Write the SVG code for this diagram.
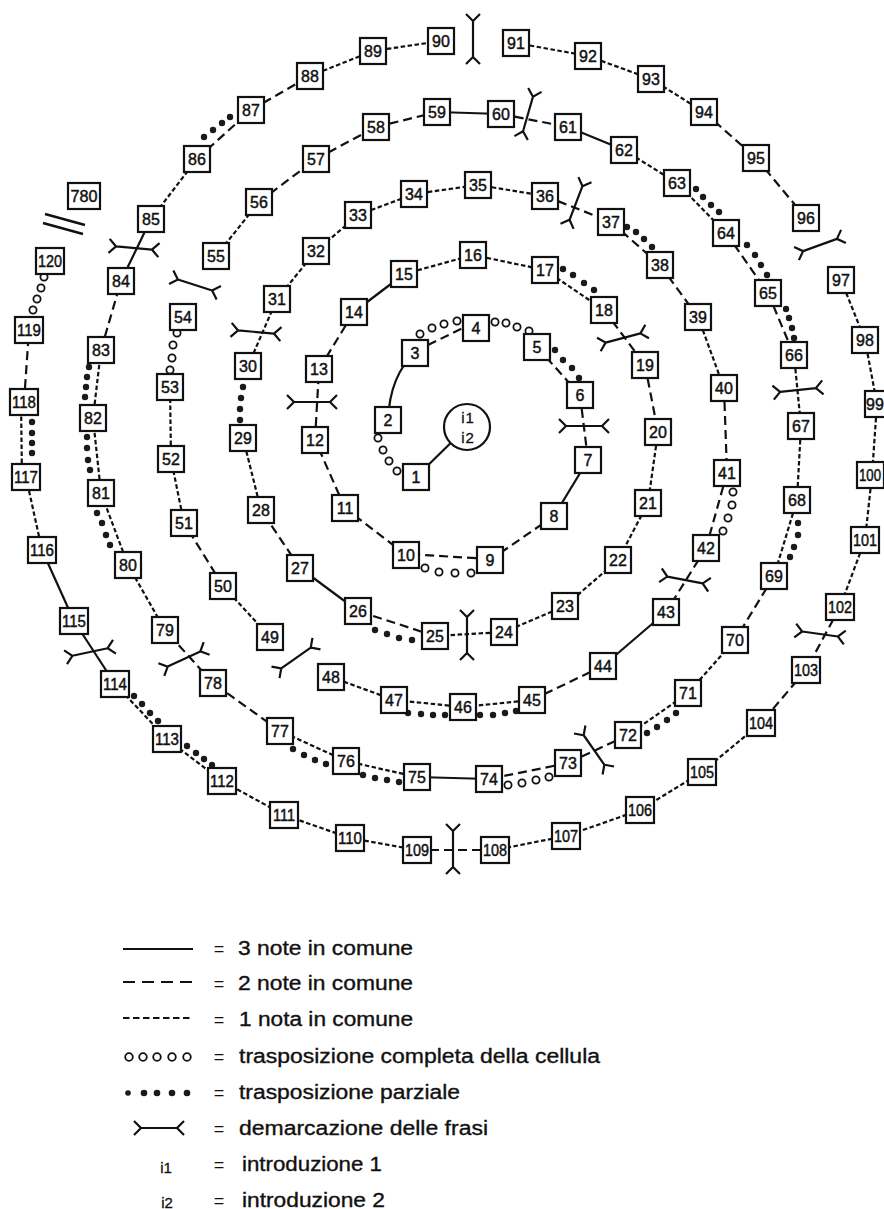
<svg xmlns="http://www.w3.org/2000/svg" width="884" height="1209" viewBox="0 0 884 1209">
<defs>
<style>
.c{fill:none;stroke:#111;stroke-width:2.2}
.d1{stroke-dasharray:4.5 2.5}
.d2{stroke-dasharray:9 5}
.oc{fill:#fff;stroke:#111;stroke-width:1.8}
.fd{fill:#1a1a1a}
.b rect{fill:#fff;stroke:#111;stroke-width:2.2}
.b text{font-family:"Liberation Sans",Arial,sans-serif;font-size:16px;text-anchor:middle;fill:#111;stroke:#111;stroke-width:0.45}
.lg{font-family:"Liberation Sans",Arial,sans-serif;font-size:20px;fill:#111;stroke:#111;stroke-width:0.35}
.eq{font-family:"Liberation Sans",Arial,sans-serif;font-size:18px;fill:#111;text-anchor:middle}
.sm{font-family:"Liberation Sans",Arial,sans-serif;font-size:15px;fill:#111;text-anchor:middle;stroke:#111;stroke-width:0.3}
</style>
<path id="dm" d="M0,-18V18M-7,-25L0,-18L7,-25M-7,25L0,18L7,25" fill="none" stroke="#111" stroke-width="2.2"/>
</defs>
<rect width="884" height="1209" fill="#fff"/>

<g id="connectors">
<line class="c" x1="467" y1="427" x2="416" y2="477"/>
<path class="c" d="M388,420 Q390,375 415,353"/>
<line class="c d2" x1="428" y1="345" x2="463" y2="328"/>
<line class="c d2" x1="537" y1="347" x2="580" y2="395"/>
<line class="c d2" x1="580" y1="395" x2="588" y2="460"/>
<line class="c" x1="588" y1="460" x2="554" y2="516"/>
<line class="c d2" x1="554" y1="516" x2="490" y2="560"/>
<line class="c d2" x1="490" y1="559" x2="406" y2="554"/>
<line class="c d2" x1="406" y1="555" x2="345" y2="508"/>
<line class="c d2" x1="345" y1="508" x2="315" y2="440"/>
<line class="c d2" x1="315" y1="440" x2="319" y2="369"/>
<line class="c d2" x1="319" y1="369" x2="354" y2="312"/>
<line class="c" x1="354" y1="312" x2="404" y2="274"/>
<line class="c d1" x1="404" y1="274" x2="473" y2="255"/>
<line class="c d1" x1="473" y1="255" x2="545" y2="270"/>
<line class="c d1" x1="545" y1="270" x2="604" y2="310"/>
<line class="c d2" x1="604" y1="310" x2="645" y2="365"/>
<line class="c d2" x1="645" y1="365" x2="658" y2="432"/>
<line class="c d1" x1="658" y1="432" x2="648" y2="503"/>
<line class="c d1" x1="648" y1="503" x2="618" y2="560"/>
<line class="c d1" x1="618" y1="560" x2="565" y2="606"/>
<line class="c d1" x1="565" y1="606" x2="504" y2="632"/>
<line class="c d1" x1="504" y1="632" x2="435" y2="636"/>
<line class="c d2" x1="435" y1="636" x2="358" y2="611"/>
<line class="c" x1="358" y1="611" x2="300" y2="568"/>
<line class="c d2" x1="300" y1="568" x2="261" y2="510"/>
<line class="c d1" x1="261" y1="510" x2="243" y2="438"/>
<line class="c d1" x1="248" y1="366" x2="277" y2="299"/>
<line class="c d1" x1="277" y1="299" x2="316" y2="251"/>
<line class="c d1" x1="316" y1="251" x2="358" y2="215"/>
<line class="c d1" x1="358" y1="215" x2="414" y2="194"/>
<line class="c d1" x1="414" y1="194" x2="478" y2="185"/>
<line class="c d1" x1="478" y1="185" x2="545" y2="196"/>
<line class="c d2" x1="545" y1="196" x2="611" y2="222"/>
<line class="c d2" x1="611" y1="222" x2="660" y2="265"/>
<line class="c d2" x1="660" y1="265" x2="698" y2="317"/>
<line class="c d1" x1="698" y1="317" x2="724" y2="388"/>
<line class="c d2" x1="724" y1="388" x2="727" y2="473"/>
<line class="c d2" x1="727" y1="473" x2="706" y2="548"/>
<line class="c d2" x1="706" y1="548" x2="666" y2="612"/>
<line class="c" x1="666" y1="612" x2="603" y2="666"/>
<line class="c d2" x1="603" y1="666" x2="532" y2="700"/>
<line class="c d1" x1="532" y1="700" x2="463" y2="707"/>
<line class="c d1" x1="463" y1="707" x2="394" y2="700"/>
<line class="c d1" x1="394" y1="700" x2="331" y2="677"/>
<line class="c d1" x1="270" y1="637" x2="223" y2="586"/>
<line class="c d2" x1="223" y1="586" x2="184" y2="523"/>
<line class="c d1" x1="184" y1="523" x2="171" y2="459"/>
<line class="c d1" x1="171" y1="459" x2="170" y2="387"/>
<line class="c d1" x1="216" y1="256" x2="259" y2="202"/>
<line class="c d2" x1="259" y1="202" x2="316" y2="159"/>
<line class="c d2" x1="316" y1="159" x2="376" y2="127"/>
<line class="c d2" x1="376" y1="127" x2="437" y2="112"/>
<line class="c" x1="437" y1="112" x2="501" y2="114"/>
<line class="c d2" x1="501" y1="114" x2="568" y2="127"/>
<line class="c" x1="568" y1="127" x2="624" y2="150"/>
<line class="c d1" x1="624" y1="150" x2="677" y2="183"/>
<line class="c d1" x1="677" y1="183" x2="726" y2="233"/>
<line class="c d2" x1="726" y1="233" x2="768" y2="293"/>
<line class="c d2" x1="768" y1="293" x2="794" y2="355"/>
<line class="c d1" x1="794" y1="355" x2="801" y2="426"/>
<line class="c d1" x1="801" y1="426" x2="797" y2="500"/>
<line class="c d1" x1="797" y1="500" x2="774" y2="576"/>
<line class="c d2" x1="774" y1="576" x2="735" y2="640"/>
<line class="c d1" x1="735" y1="640" x2="688" y2="693"/>
<line class="c d1" x1="688" y1="693" x2="628" y2="735"/>
<line class="c d2" x1="628" y1="735" x2="568" y2="763"/>
<line class="c d2" x1="568" y1="763" x2="489" y2="779"/>
<line class="c" x1="489" y1="779" x2="417" y2="777"/>
<line class="c d1" x1="417" y1="777" x2="346" y2="761"/>
<line class="c d1" x1="346" y1="761" x2="280" y2="731"/>
<line class="c d2" x1="280" y1="731" x2="213" y2="683"/>
<line class="c d2" x1="213" y1="683" x2="165" y2="630"/>
<line class="c d1" x1="165" y1="630" x2="128" y2="565"/>
<line class="c d1" x1="128" y1="565" x2="101" y2="493"/>
<line class="c d1" x1="101" y1="493" x2="93" y2="418"/>
<line class="c d1" x1="93" y1="418" x2="101" y2="350"/>
<line class="c d2" x1="101" y1="350" x2="121" y2="281"/>
<line class="c" x1="121" y1="281" x2="151" y2="219"/>
<line class="c d1" x1="151" y1="219" x2="197" y2="159"/>
<line class="c d2" x1="197" y1="159" x2="251" y2="110"/>
<line class="c d2" x1="251" y1="110" x2="310" y2="76"/>
<line class="c d1" x1="310" y1="76" x2="373" y2="51"/>
<line class="c d1" x1="373" y1="51" x2="441" y2="41"/>
<line class="c d1" x1="516" y1="43" x2="588" y2="56"/>
<line class="c d1" x1="588" y1="56" x2="651" y2="79"/>
<line class="c d1" x1="651" y1="79" x2="704" y2="112"/>
<line class="c d2" x1="704" y1="112" x2="756" y2="158"/>
<line class="c d2" x1="756" y1="158" x2="806" y2="218"/>
<line class="c d1" x1="841" y1="280" x2="865" y2="340"/>
<line class="c d1" x1="865" y1="340" x2="877" y2="404"/>
<line class="c d1" x1="877" y1="404" x2="872" y2="475"/>
<line class="c d1" x1="872" y1="475" x2="865" y2="540"/>
<line class="c d1" x1="865" y1="540" x2="840" y2="607"/>
<line class="c d2" x1="840" y1="607" x2="806" y2="670"/>
<line class="c d2" x1="806" y1="670" x2="761" y2="723"/>
<line class="c d1" x1="761" y1="723" x2="702" y2="772"/>
<line class="c d1" x1="702" y1="772" x2="640" y2="810"/>
<line class="c d1" x1="640" y1="810" x2="566" y2="836"/>
<line class="c d1" x1="566" y1="836" x2="495" y2="850"/>
<line class="c d2" x1="495" y1="850" x2="417" y2="850"/>
<line class="c d1" x1="417" y1="850" x2="350" y2="838"/>
<line class="c d1" x1="350" y1="838" x2="284" y2="815"/>
<line class="c d1" x1="284" y1="815" x2="222" y2="781"/>
<line class="c d1" x1="222" y1="781" x2="167" y2="739"/>
<line class="c d1" x1="167" y1="739" x2="115" y2="684"/>
<line class="c" x1="115" y1="684" x2="74" y2="621"/>
<line class="c" x1="74" y1="621" x2="42" y2="550"/>
<line class="c d1" x1="42" y1="550" x2="26" y2="477"/>
<line class="c d1" x1="22" y1="477" x2="21" y2="402"/>
<line class="c d2" x1="24" y1="402" x2="29" y2="330"/>
<g id="full-transposition">
<circle class="oc" cx="378" cy="438" r="3.6"/><circle class="oc" cx="383" cy="450" r="3.6"/><circle class="oc" cx="389" cy="461" r="3.6"/><circle class="oc" cx="397" cy="471" r="3.6"/>
<circle class="oc" cx="420" cy="334" r="3.6"/><circle class="oc" cx="432" cy="328" r="3.6"/><circle class="oc" cx="444" cy="324" r="3.6"/><circle class="oc" cx="457" cy="321" r="3.6"/>
<circle class="oc" cx="495" cy="322" r="3.6"/><circle class="oc" cx="506" cy="323" r="3.6"/><circle class="oc" cx="517" cy="327" r="3.6"/><circle class="oc" cx="529" cy="331" r="3.6"/>
<circle class="oc" cx="425" cy="568" r="3.6"/><circle class="oc" cx="439" cy="572" r="3.6"/><circle class="oc" cx="455" cy="573" r="3.6"/><circle class="oc" cx="471" cy="573" r="3.6"/>
<circle class="oc" cx="733" cy="492" r="3.6"/><circle class="oc" cx="732" cy="505" r="3.6"/><circle class="oc" cx="728" cy="518" r="3.6"/><circle class="oc" cx="723" cy="531" r="3.6"/>
<circle class="oc" cx="177" cy="333" r="3.6"/><circle class="oc" cx="173" cy="345" r="3.6"/><circle class="oc" cx="172" cy="358" r="3.6"/><circle class="oc" cx="170" cy="370" r="3.6"/>
<circle class="oc" cx="508" cy="785" r="3.6"/><circle class="oc" cx="522" cy="783" r="3.6"/><circle class="oc" cx="536" cy="780" r="3.6"/><circle class="oc" cx="549" cy="777" r="3.6"/>
<circle class="oc" cx="44" cy="277" r="3.6"/><circle class="oc" cx="41" cy="288" r="3.6"/><circle class="oc" cx="37" cy="299" r="3.6"/><circle class="oc" cx="33" cy="310" r="3.6"/>
</g>
<g id="partial-transposition" class="fd">
<circle cx="555" cy="350" r="3.2"/><circle cx="563" cy="360" r="3.2"/><circle cx="572" cy="368" r="3.2"/><circle cx="579" cy="378" r="3.2"/>
<circle cx="563" cy="269" r="3.2"/><circle cx="573" cy="275" r="3.2"/><circle cx="584" cy="283" r="3.2"/><circle cx="594" cy="290" r="3.2"/>
<circle cx="375" cy="630" r="3.2"/><circle cx="387" cy="634" r="3.2"/><circle cx="399" cy="638" r="3.2"/><circle cx="412" cy="640" r="3.2"/>
<circle cx="243" cy="387" r="3.2"/><circle cx="241" cy="398" r="3.2"/><circle cx="240" cy="409" r="3.2"/><circle cx="240" cy="420" r="3.2"/>
<circle cx="627" cy="227" r="3.2"/><circle cx="636" cy="232" r="3.2"/><circle cx="644" cy="239" r="3.2"/><circle cx="652" cy="247" r="3.2"/>
<circle cx="480" cy="715" r="3.2"/><circle cx="493" cy="715" r="3.2"/><circle cx="505" cy="713" r="3.2"/><circle cx="516" cy="711" r="3.2"/>
<circle cx="408" cy="713" r="3.2"/><circle cx="421" cy="714" r="3.2"/><circle cx="433" cy="715" r="3.2"/><circle cx="445" cy="715" r="3.2"/>
<circle cx="696" cy="189" r="3.2"/><circle cx="703" cy="197" r="3.2"/><circle cx="711" cy="205" r="3.2"/><circle cx="719" cy="212" r="3.2"/>
<circle cx="747" cy="245" r="3.2"/><circle cx="755" cy="255" r="3.2"/><circle cx="761" cy="265" r="3.2"/><circle cx="767" cy="275" r="3.2"/>
<circle cx="786" cy="309" r="3.2"/><circle cx="789" cy="318" r="3.2"/><circle cx="792" cy="328" r="3.2"/><circle cx="794" cy="338" r="3.2"/>
<circle cx="798" cy="523" r="3.2"/><circle cx="798" cy="535" r="3.2"/><circle cx="794" cy="547" r="3.2"/><circle cx="790" cy="557" r="3.2"/>
<circle cx="676" cy="713" r="3.2"/><circle cx="667" cy="720" r="3.2"/><circle cx="657" cy="727" r="3.2"/><circle cx="647" cy="733" r="3.2"/>
<circle cx="363" cy="775" r="3.2"/><circle cx="375" cy="778" r="3.2"/><circle cx="387" cy="780" r="3.2"/><circle cx="399" cy="782" r="3.2"/>
<circle cx="293" cy="749" r="3.2"/><circle cx="304" cy="755" r="3.2"/><circle cx="315" cy="760" r="3.2"/><circle cx="326" cy="764" r="3.2"/>
<circle cx="97" cy="513" r="3.2"/><circle cx="102" cy="523" r="3.2"/><circle cx="106" cy="535" r="3.2"/><circle cx="110" cy="545" r="3.2"/>
<circle cx="87" cy="437" r="3.2"/><circle cx="87" cy="448" r="3.2"/><circle cx="88" cy="460" r="3.2"/><circle cx="90" cy="470" r="3.2"/>
<circle cx="89" cy="367" r="3.2"/><circle cx="87" cy="377" r="3.2"/><circle cx="86" cy="387" r="3.2"/><circle cx="85" cy="397" r="3.2"/>
<circle cx="204" cy="137" r="3.2"/><circle cx="213" cy="130" r="3.2"/><circle cx="222" cy="123" r="3.2"/><circle cx="230" cy="117" r="3.2"/>
<circle cx="187" cy="746" r="3.2"/><circle cx="196" cy="753" r="3.2"/><circle cx="204" cy="759" r="3.2"/><circle cx="212" cy="765" r="3.2"/>
<circle cx="134" cy="696" r="3.2"/><circle cx="142" cy="704" r="3.2"/><circle cx="150" cy="713" r="3.2"/><circle cx="158" cy="721" r="3.2"/>
<circle cx="32" cy="422" r="3.2"/><circle cx="32" cy="433" r="3.2"/><circle cx="32" cy="443" r="3.2"/><circle cx="32" cy="453" r="3.2"/>
</g>
</g>

<g id="phrase-marks">
<use href="#dm" transform="translate(473,39)"/>
<use href="#dm" transform="translate(528,114) rotate(16)"/>
<use href="#dm" transform="translate(576,203) rotate(21)"/>
<use href="#dm" transform="translate(820,245) rotate(70)"/>
<use href="#dm" transform="translate(134,248) rotate(95)"/>
<use href="#dm" transform="translate(195,285) rotate(108)"/>
<use href="#dm" transform="translate(256,332) rotate(95)"/>
<use href="#dm" transform="translate(312,402) rotate(90)"/>
<use href="#dm" transform="translate(584,426) rotate(90)"/>
<use href="#dm" transform="translate(623,338) rotate(75)"/>
<use href="#dm" transform="translate(798,390) rotate(84)"/>
<use href="#dm" transform="translate(685,580) rotate(101)"/>
<use href="#dm" transform="translate(820,634) rotate(98)"/>
<use href="#dm" transform="translate(467,635)"/>
<use href="#dm" transform="translate(594,750) rotate(-35)"/>
<use href="#dm" transform="translate(453,849)"/>
<use href="#dm" transform="translate(296,658) rotate(55)"/>
<use href="#dm" transform="translate(184,659) rotate(65)"/>
<use href="#dm" transform="translate(90,652) rotate(78)"/>
<path d="M45,214L85,225M43,223L83,234" fill="none" stroke="#111" stroke-width="2.6"/>
</g>

<g id="intro">
<circle cx="467" cy="427" r="23" fill="#fff" stroke="#111" stroke-width="2.2"/>
<text class="sm" x="468" y="423" font-size="17" letter-spacing="1">i1</text>
<text class="sm" x="468" y="443" font-size="17" letter-spacing="1">i2</text>
</g>

<g id="nodes">
<g id="n1" class="b"><rect x="403" y="464" width="26" height="26"/><text x="416" y="483">1</text></g>
<g id="n2" class="b"><rect x="375" y="407" width="26" height="26"/><text x="388" y="426">2</text></g>
<g id="n3" class="b"><rect x="402" y="340" width="26" height="26"/><text x="415" y="359">3</text></g>
<g id="n4" class="b"><rect x="463" y="315" width="26" height="26"/><text x="476" y="334">4</text></g>
<g id="n5" class="b"><rect x="524" y="334" width="26" height="26"/><text x="537" y="353">5</text></g>
<g id="n6" class="b"><rect x="567" y="382" width="26" height="26"/><text x="580" y="401">6</text></g>
<g id="n7" class="b"><rect x="575" y="447" width="26" height="26"/><text x="588" y="466">7</text></g>
<g id="n8" class="b"><rect x="541" y="503" width="26" height="26"/><text x="554" y="522">8</text></g>
<g id="n9" class="b"><rect x="477" y="547" width="26" height="26"/><text x="490" y="566">9</text></g>
<g id="n10" class="b"><rect x="393" y="542" width="26" height="26"/><text x="406" y="561">10</text></g>
<g id="n11" class="b"><rect x="332" y="495" width="26" height="26"/><text x="345" y="514">11</text></g>
<g id="n12" class="b"><rect x="302" y="427" width="26" height="26"/><text x="315" y="446">12</text></g>
<g id="n13" class="b"><rect x="306" y="356" width="26" height="26"/><text x="319" y="375">13</text></g>
<g id="n14" class="b"><rect x="341" y="299" width="26" height="26"/><text x="354" y="318">14</text></g>
<g id="n15" class="b"><rect x="391" y="261" width="26" height="26"/><text x="404" y="280">15</text></g>
<g id="n16" class="b"><rect x="460" y="242" width="26" height="26"/><text x="473" y="261">16</text></g>
<g id="n17" class="b"><rect x="532" y="257" width="26" height="26"/><text x="545" y="276">17</text></g>
<g id="n18" class="b"><rect x="591" y="297" width="26" height="26"/><text x="604" y="316">18</text></g>
<g id="n19" class="b"><rect x="632" y="352" width="26" height="26"/><text x="645" y="371">19</text></g>
<g id="n20" class="b"><rect x="645" y="419" width="26" height="26"/><text x="658" y="438">20</text></g>
<g id="n21" class="b"><rect x="635" y="490" width="26" height="26"/><text x="648" y="509">21</text></g>
<g id="n22" class="b"><rect x="605" y="547" width="26" height="26"/><text x="618" y="566">22</text></g>
<g id="n23" class="b"><rect x="552" y="593" width="26" height="26"/><text x="565" y="612">23</text></g>
<g id="n24" class="b"><rect x="491" y="619" width="26" height="26"/><text x="504" y="638">24</text></g>
<g id="n25" class="b"><rect x="422" y="623" width="26" height="26"/><text x="435" y="642">25</text></g>
<g id="n26" class="b"><rect x="345" y="598" width="26" height="26"/><text x="358" y="617">26</text></g>
<g id="n27" class="b"><rect x="287" y="555" width="26" height="26"/><text x="300" y="574">27</text></g>
<g id="n28" class="b"><rect x="248" y="497" width="26" height="26"/><text x="261" y="516">28</text></g>
<g id="n29" class="b"><rect x="230" y="425" width="26" height="26"/><text x="243" y="444">29</text></g>
<g id="n30" class="b"><rect x="235" y="353" width="26" height="26"/><text x="248" y="372">30</text></g>
<g id="n31" class="b"><rect x="264" y="286" width="26" height="26"/><text x="277" y="305">31</text></g>
<g id="n32" class="b"><rect x="303" y="238" width="26" height="26"/><text x="316" y="257">32</text></g>
<g id="n33" class="b"><rect x="345" y="202" width="26" height="26"/><text x="358" y="221">33</text></g>
<g id="n34" class="b"><rect x="401" y="181" width="26" height="26"/><text x="414" y="200">34</text></g>
<g id="n35" class="b"><rect x="465" y="172" width="26" height="26"/><text x="478" y="191">35</text></g>
<g id="n36" class="b"><rect x="532" y="183" width="26" height="26"/><text x="545" y="202">36</text></g>
<g id="n37" class="b"><rect x="598" y="209" width="26" height="26"/><text x="611" y="228">37</text></g>
<g id="n38" class="b"><rect x="647" y="252" width="26" height="26"/><text x="660" y="271">38</text></g>
<g id="n39" class="b"><rect x="685" y="304" width="26" height="26"/><text x="698" y="323">39</text></g>
<g id="n40" class="b"><rect x="711" y="375" width="26" height="26"/><text x="724" y="394">40</text></g>
<g id="n41" class="b"><rect x="714" y="460" width="26" height="26"/><text x="727" y="479">41</text></g>
<g id="n42" class="b"><rect x="693" y="535" width="26" height="26"/><text x="706" y="554">42</text></g>
<g id="n43" class="b"><rect x="653" y="599" width="26" height="26"/><text x="666" y="618">43</text></g>
<g id="n44" class="b"><rect x="590" y="653" width="26" height="26"/><text x="603" y="672">44</text></g>
<g id="n45" class="b"><rect x="519" y="687" width="26" height="26"/><text x="532" y="706">45</text></g>
<g id="n46" class="b"><rect x="450" y="694" width="26" height="26"/><text x="463" y="713">46</text></g>
<g id="n47" class="b"><rect x="381" y="687" width="26" height="26"/><text x="394" y="706">47</text></g>
<g id="n48" class="b"><rect x="318" y="664" width="26" height="26"/><text x="331" y="683">48</text></g>
<g id="n49" class="b"><rect x="257" y="624" width="26" height="26"/><text x="270" y="643">49</text></g>
<g id="n50" class="b"><rect x="210" y="573" width="26" height="26"/><text x="223" y="592">50</text></g>
<g id="n51" class="b"><rect x="171" y="510" width="26" height="26"/><text x="184" y="529">51</text></g>
<g id="n52" class="b"><rect x="158" y="446" width="26" height="26"/><text x="171" y="465">52</text></g>
<g id="n53" class="b"><rect x="157" y="374" width="26" height="26"/><text x="170" y="393">53</text></g>
<g id="n54" class="b"><rect x="170" y="304" width="26" height="26"/><text x="183" y="323">54</text></g>
<g id="n55" class="b"><rect x="203" y="243" width="26" height="26"/><text x="216" y="262">55</text></g>
<g id="n56" class="b"><rect x="246" y="189" width="26" height="26"/><text x="259" y="208">56</text></g>
<g id="n57" class="b"><rect x="303" y="146" width="26" height="26"/><text x="316" y="165">57</text></g>
<g id="n58" class="b"><rect x="363" y="114" width="26" height="26"/><text x="376" y="133">58</text></g>
<g id="n59" class="b"><rect x="424" y="99" width="26" height="26"/><text x="437" y="118">59</text></g>
<g id="n60" class="b"><rect x="488" y="101" width="26" height="26"/><text x="501" y="120">60</text></g>
<g id="n61" class="b"><rect x="555" y="114" width="26" height="26"/><text x="568" y="133">61</text></g>
<g id="n62" class="b"><rect x="611" y="137" width="26" height="26"/><text x="624" y="156">62</text></g>
<g id="n63" class="b"><rect x="664" y="170" width="26" height="26"/><text x="677" y="189">63</text></g>
<g id="n64" class="b"><rect x="713" y="220" width="26" height="26"/><text x="726" y="239">64</text></g>
<g id="n65" class="b"><rect x="755" y="280" width="26" height="26"/><text x="768" y="299">65</text></g>
<g id="n66" class="b"><rect x="781" y="342" width="26" height="26"/><text x="794" y="361">66</text></g>
<g id="n67" class="b"><rect x="788" y="413" width="26" height="26"/><text x="801" y="432">67</text></g>
<g id="n68" class="b"><rect x="784" y="487" width="26" height="26"/><text x="797" y="506">68</text></g>
<g id="n69" class="b"><rect x="761" y="563" width="26" height="26"/><text x="774" y="582">69</text></g>
<g id="n70" class="b"><rect x="722" y="627" width="26" height="26"/><text x="735" y="646">70</text></g>
<g id="n71" class="b"><rect x="675" y="680" width="26" height="26"/><text x="688" y="699">71</text></g>
<g id="n72" class="b"><rect x="615" y="722" width="26" height="26"/><text x="628" y="741">72</text></g>
<g id="n73" class="b"><rect x="555" y="750" width="26" height="26"/><text x="568" y="769">73</text></g>
<g id="n74" class="b"><rect x="476" y="766" width="26" height="26"/><text x="489" y="785">74</text></g>
<g id="n75" class="b"><rect x="404" y="764" width="26" height="26"/><text x="417" y="783">75</text></g>
<g id="n76" class="b"><rect x="333" y="748" width="26" height="26"/><text x="346" y="767">76</text></g>
<g id="n77" class="b"><rect x="267" y="718" width="26" height="26"/><text x="280" y="737">77</text></g>
<g id="n78" class="b"><rect x="200" y="670" width="26" height="26"/><text x="213" y="689">78</text></g>
<g id="n79" class="b"><rect x="152" y="617" width="26" height="26"/><text x="165" y="636">79</text></g>
<g id="n80" class="b"><rect x="115" y="552" width="26" height="26"/><text x="128" y="571">80</text></g>
<g id="n81" class="b"><rect x="88" y="480" width="26" height="26"/><text x="101" y="499">81</text></g>
<g id="n82" class="b"><rect x="80" y="405" width="26" height="26"/><text x="93" y="424">82</text></g>
<g id="n83" class="b"><rect x="88" y="337" width="26" height="26"/><text x="101" y="356">83</text></g>
<g id="n84" class="b"><rect x="108" y="268" width="26" height="26"/><text x="121" y="287">84</text></g>
<g id="n85" class="b"><rect x="138" y="206" width="26" height="26"/><text x="151" y="225">85</text></g>
<g id="n86" class="b"><rect x="184" y="146" width="26" height="26"/><text x="197" y="165">86</text></g>
<g id="n87" class="b"><rect x="238" y="97" width="26" height="26"/><text x="251" y="116">87</text></g>
<g id="n88" class="b"><rect x="297" y="63" width="26" height="26"/><text x="310" y="82">88</text></g>
<g id="n89" class="b"><rect x="360" y="38" width="26" height="26"/><text x="373" y="57">89</text></g>
<g id="n90" class="b"><rect x="428" y="28" width="26" height="26"/><text x="441" y="47">90</text></g>
<g id="n91" class="b"><rect x="503" y="30" width="26" height="26"/><text x="516" y="49">91</text></g>
<g id="n92" class="b"><rect x="575" y="43" width="26" height="26"/><text x="588" y="62">92</text></g>
<g id="n93" class="b"><rect x="638" y="66" width="26" height="26"/><text x="651" y="85">93</text></g>
<g id="n94" class="b"><rect x="691" y="99" width="26" height="26"/><text x="704" y="118">94</text></g>
<g id="n95" class="b"><rect x="743" y="145" width="26" height="26"/><text x="756" y="164">95</text></g>
<g id="n96" class="b"><rect x="793" y="205" width="26" height="26"/><text x="806" y="224">96</text></g>
<g id="n97" class="b"><rect x="828" y="267" width="26" height="26"/><text x="841" y="286">97</text></g>
<g id="n98" class="b"><rect x="852" y="327" width="26" height="26"/><text x="865" y="346">98</text></g>
<g id="n99" class="b"><rect x="865" y="391" width="26" height="26"/><text x="875" y="410">99</text></g>
<g id="n100" class="b"><rect x="857" y="462" width="27" height="26"/><text x="870" y="481" textLength="22" lengthAdjust="spacingAndGlyphs">100</text></g>
<g id="n101" class="b"><rect x="851" y="527" width="28" height="26"/><text x="865" y="546" textLength="24" lengthAdjust="spacingAndGlyphs">101</text></g>
<g id="n102" class="b"><rect x="826" y="594" width="28" height="26"/><text x="840" y="613" textLength="24" lengthAdjust="spacingAndGlyphs">102</text></g>
<g id="n103" class="b"><rect x="792" y="657" width="28" height="26"/><text x="806" y="676" textLength="24" lengthAdjust="spacingAndGlyphs">103</text></g>
<g id="n104" class="b"><rect x="747" y="710" width="28" height="26"/><text x="761" y="729" textLength="24" lengthAdjust="spacingAndGlyphs">104</text></g>
<g id="n105" class="b"><rect x="688" y="759" width="28" height="26"/><text x="702" y="778" textLength="24" lengthAdjust="spacingAndGlyphs">105</text></g>
<g id="n106" class="b"><rect x="626" y="797" width="28" height="26"/><text x="640" y="816" textLength="24" lengthAdjust="spacingAndGlyphs">106</text></g>
<g id="n107" class="b"><rect x="552" y="823" width="28" height="26"/><text x="566" y="842" textLength="24" lengthAdjust="spacingAndGlyphs">107</text></g>
<g id="n108" class="b"><rect x="481" y="837" width="28" height="26"/><text x="495" y="856" textLength="24" lengthAdjust="spacingAndGlyphs">108</text></g>
<g id="n109" class="b"><rect x="403" y="837" width="28" height="26"/><text x="417" y="856" textLength="24" lengthAdjust="spacingAndGlyphs">109</text></g>
<g id="n110" class="b"><rect x="336" y="825" width="28" height="26"/><text x="350" y="844" textLength="24" lengthAdjust="spacingAndGlyphs">110</text></g>
<g id="n111" class="b"><rect x="270" y="802" width="28" height="26"/><text x="284" y="821" textLength="22" lengthAdjust="spacingAndGlyphs">111</text></g>
<g id="n112" class="b"><rect x="208" y="768" width="28" height="26"/><text x="222" y="787" textLength="24" lengthAdjust="spacingAndGlyphs">112</text></g>
<g id="n113" class="b"><rect x="153" y="726" width="28" height="26"/><text x="167" y="745" textLength="24" lengthAdjust="spacingAndGlyphs">113</text></g>
<g id="n114" class="b"><rect x="101" y="671" width="28" height="26"/><text x="115" y="690" textLength="24" lengthAdjust="spacingAndGlyphs">114</text></g>
<g id="n115" class="b"><rect x="60" y="608" width="28" height="26"/><text x="74" y="627" textLength="24" lengthAdjust="spacingAndGlyphs">115</text></g>
<g id="n116" class="b"><rect x="28" y="537" width="28" height="26"/><text x="42" y="556" textLength="24" lengthAdjust="spacingAndGlyphs">116</text></g>
<g id="n117" class="b"><rect x="12" y="464" width="28" height="26"/><text x="26" y="483" textLength="24" lengthAdjust="spacingAndGlyphs">117</text></g>
<g id="n118" class="b"><rect x="10" y="389" width="28" height="26"/><text x="24" y="408" textLength="24" lengthAdjust="spacingAndGlyphs">118</text></g>
<g id="n119" class="b"><rect x="15" y="317" width="28" height="26"/><text x="29" y="336" textLength="24" lengthAdjust="spacingAndGlyphs">119</text></g>
<g id="n120" class="b"><rect x="36" y="248" width="28" height="26"/><text x="50" y="267" textLength="24" lengthAdjust="spacingAndGlyphs">120</text></g>
<g id="n780" class="b"><rect x="68" y="183" width="32" height="26"/><text x="84" y="202" textLength="27" lengthAdjust="spacingAndGlyphs">780</text></g>
</g>

<g id="legend">
<line class="c" x1="123" y1="949" x2="193" y2="949"/>
<line class="c" x1="123" y1="982" x2="193" y2="982" stroke-dasharray="12 7"/>
<line class="c" x1="123" y1="1018" x2="193" y2="1018" stroke-dasharray="6.5 3.5"/>
<circle class="oc" cx="129" cy="1057" r="3.8"/><circle class="oc" cx="143" cy="1057" r="3.8"/><circle class="oc" cx="157" cy="1057" r="3.8"/><circle class="oc" cx="172" cy="1057" r="3.8"/><circle class="oc" cx="187" cy="1057" r="3.8"/>
<g class="fd"><circle cx="128" cy="1093" r="2.8"/><circle cx="144" cy="1093" r="3.3"/><circle cx="157" cy="1093" r="3.3"/><circle cx="172" cy="1093" r="3.3"/><circle cx="187" cy="1093" r="3.3"/></g>
<use href="#dm" transform="translate(159,1128) rotate(90)"/>
<text class="sm" x="166" y="1173">i1</text>
<text class="sm" x="167" y="1208">i2</text>
<text class="eq" x="219" y="955">=</text>
<text class="eq" x="219" y="990">=</text>
<text class="eq" x="219" y="1026">=</text>
<text class="eq" x="219" y="1063">=</text>
<text class="eq" x="219" y="1099">=</text>
<text class="eq" x="219" y="1135">=</text>
<text class="eq" x="219" y="1171">=</text>
<text class="eq" x="219" y="1207">=</text>
<text class="lg" x="238" y="955" textLength="175" lengthAdjust="spacingAndGlyphs">3 note in comune</text>
<text class="lg" x="238" y="990" textLength="175" lengthAdjust="spacingAndGlyphs">2 note in comune</text>
<text class="lg" x="239" y="1026" textLength="174" lengthAdjust="spacingAndGlyphs">1 nota in comune</text>
<text class="lg" x="239" y="1063" textLength="361" lengthAdjust="spacingAndGlyphs">trasposizione completa della cellula</text>
<text class="lg" x="239" y="1099" textLength="221" lengthAdjust="spacingAndGlyphs">trasposizione parziale</text>
<text class="lg" x="239" y="1135" textLength="249" lengthAdjust="spacingAndGlyphs">demarcazione delle frasi</text>
<text class="lg" x="242" y="1171" textLength="140" lengthAdjust="spacingAndGlyphs">introduzione 1</text>
<text class="lg" x="242" y="1207" textLength="143" lengthAdjust="spacingAndGlyphs">introduzione 2</text>
</g>
</svg>
